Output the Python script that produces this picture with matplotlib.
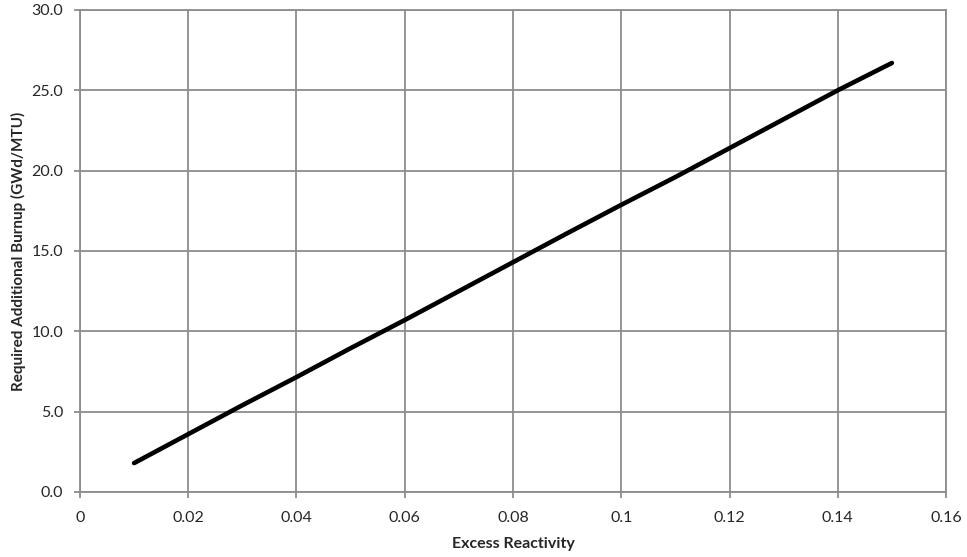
import matplotlib
matplotlib.use("Agg")
import matplotlib.pyplot as plt

# Excess reactivity vs. required additional burnup
excess_reactivity = [0.01, 0.02, 0.03, 0.04, 0.05, 0.06, 0.07, 0.08,
                     0.09, 0.10, 0.11, 0.12, 0.13, 0.14, 0.15]
burnup = [1.8, 3.6, 5.4, 7.15, 8.95, 10.7, 12.5, 14.3,
          16.1, 17.87, 19.6, 21.4, 23.2, 25.0, 26.7]

x_ticks = [0, 0.02, 0.04, 0.06, 0.08, 0.10, 0.12, 0.14, 0.16]
x_tick_labels = ["0", "0.02", "0.04", "0.06", "0.08", "0.1", "0.12", "0.14", "0.16"]
y_ticks = [0, 5, 10, 15, 20, 25, 30]
y_tick_labels = ["0.0", "5.0", "10.0", "15.0", "20.0", "25.0", "30.0"]

plt.rcParams["font.family"] = ["Lato", "DejaVu Sans"]

grid_color = "#8c8c8c"
text_color = "#262626"

fig = plt.figure(figsize=(9.67, 5.57), dpi=100)
ax = fig.add_axes([0.0827, 0.1167, 0.8956, 0.8654])

ax.plot(excess_reactivity, burnup, color="black", lw=3.3,
        solid_capstyle="round", zorder=3)

ax.set_xlim(0, 0.16)
ax.set_ylim(0, 30)
ax.set_xticks(x_ticks)
ax.set_xticklabels(x_tick_labels)
ax.set_yticks(y_ticks)
ax.set_yticklabels(y_tick_labels)

ax.grid(True, color=grid_color, lw=1.3)
ax.set_axisbelow(True)
for sp in ax.spines.values():
    sp.set_color(grid_color)
    sp.set_linewidth(1.3)

ax.tick_params(axis="both", direction="out", length=4, width=1.3,
               color=grid_color, labelsize=11.5, labelcolor=text_color)
ax.tick_params(axis="x", pad=10)
ax.tick_params(axis="y", pad=8)

ax.set_xlabel("Excess Reactivity", fontsize=11.5, fontweight="bold",
              color=text_color, labelpad=8)
ax.set_ylabel("Required Additional Burnup (GWd/MTU)", fontsize=11,
              fontweight="bold", color=text_color, labelpad=4)

fig.savefig("out.png", dpi=100)
